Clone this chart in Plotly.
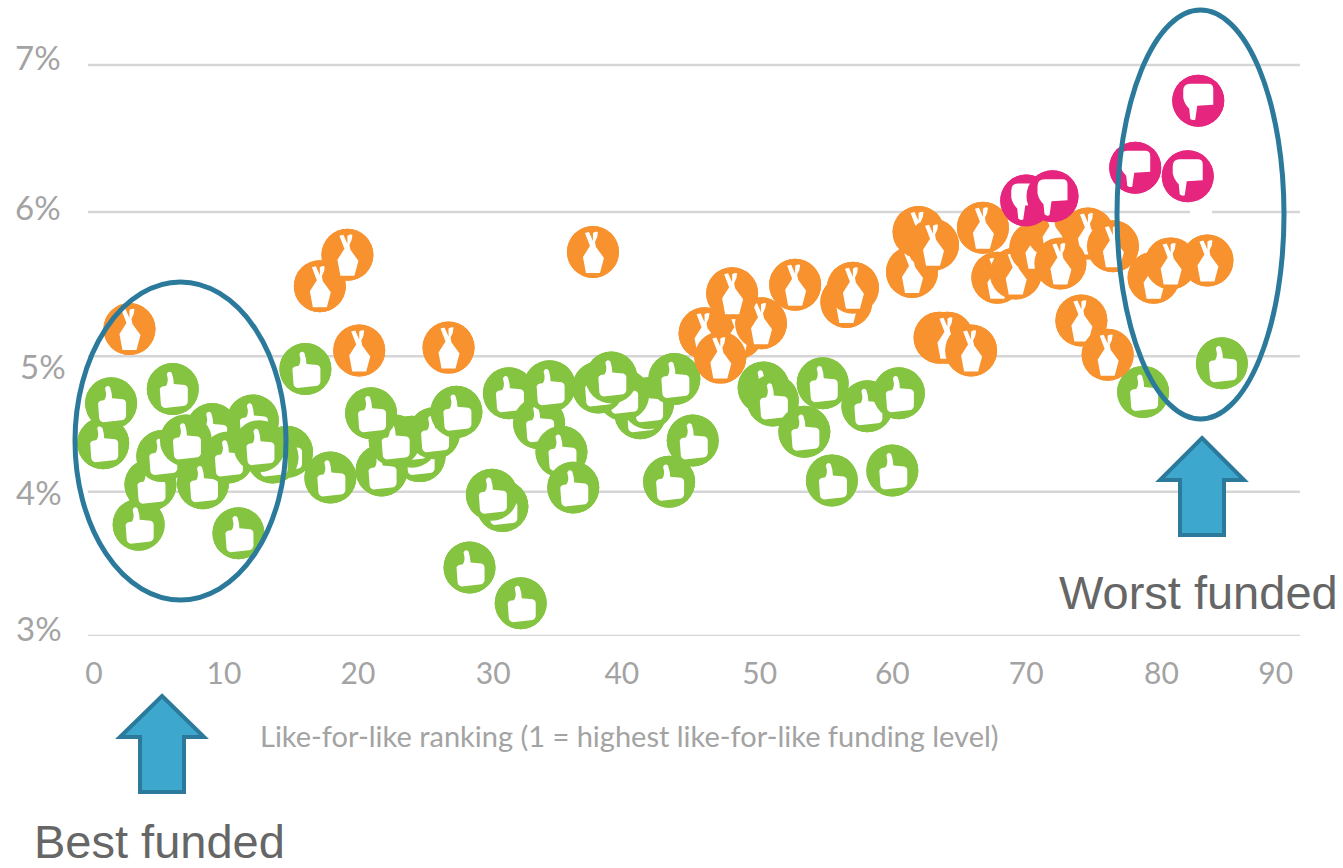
import plotly.graph_objects as go

# Funding level (%) against like-for-like ranking, one list pair per status.
green_rank = [0.7, 1.3, 6.0, 3.4, 4.3, 5.2, 8.3, 9.0, 7.0, 10.2, 12.1, 14.7, 13.6, 12.6, 11.0,
              16.1, 18.0, 24.8, 24.2, 21.9, 25.9, 22.9, 21.1, 27.6,
              31.1, 30.3, 28.6, 32.5, 31.6, 33.9, 34.7, 35.6, 36.5,
              41.6, 42.2, 40.3, 38.4, 39.4, 44.2, 45.6, 43.8,
              51.0, 51.7, 55.5, 54.1, 58.9, 61.3, 56.2, 60.8, 79.9, 85.9]
green_pct = [4.35, 4.63, 4.73, 3.78, 4.06, 4.26, 4.07, 4.45, 4.37, 4.25, 4.51, 4.29, 4.25, 4.33, 3.72,
             4.87, 4.11, 4.26, 4.36, 4.16, 4.42, 4.37, 4.56, 4.57,
             3.91, 3.99, 3.48, 3.23, 4.70, 4.49, 4.75, 4.29, 4.04,
             4.56, 4.63, 4.69, 4.74, 4.81, 4.80, 4.37, 4.08,
             4.74, 4.65, 4.77, 4.43, 4.61, 4.70, 4.09, 4.16, 4.71, 4.91]

orange_rank = [2.7, 17.2, 19.3, 20.2, 27.0, 38.0,
               46.5, 49.0, 50.8, 47.7, 48.6, 53.4, 57.3, 57.8,
               62.3, 62.8, 63.9, 67.7, 68.8, 70.2, 71.7, 73.0, 75.7, 77.6, 73.6,
               64.4, 65.0, 66.8, 75.2, 77.2, 80.7, 82.0, 84.8]
orange_pct = [5.15, 5.45, 5.67, 5.00, 5.02, 5.69,
              5.12, 5.12, 5.19, 4.95, 5.40, 5.46, 5.34, 5.44,
              5.55, 5.83, 5.74, 5.86, 5.51, 5.54, 5.72, 5.83, 5.82, 5.73, 5.61,
              5.09, 5.09, 5.00, 5.21, 4.97, 5.51, 5.61, 5.63]

pink_rank = [71.0, 73.0, 79.3, 83.3, 84.1]
pink_pct = [6.05, 6.08, 6.28, 6.22, 6.75]

grid_values = [3, 4.01, 4.96, 5.97, 7]
y_tick_labels = ["3%", "4%", "5%", "6%", "7%"]
x_tick_positions = [0, 9.9, 20.1, 30.4, 40.2, 50.7, 60.8, 71, 81.3, 90]
x_tick_labels = ["0", "10", "20", "30", "40", "50", "60", "70", "80", "90"]

GREEN, ORANGE, PINK = "#84c441", "#f7922e", "#e6257f"
TICK_GREY, TEXT_GREY, GRID = "#a3a3a3", "#666666", "#d6d6d8"
RING, ARROW = "#2b7a9b", "#3da7cd"

W, H = 1343, 868
L, R, T, B = 60, 43, 0, 232
RADIUS = 26

# Icon outlines in pixels around the marker centre, y pointing up.
THUMB_UP = ("M-13,0 Q-12,3 -7,3 Q-5,5 -5,10 L-6,15 Q-4,19 -1,16 Q1,10 1,5 L12,4 "
            "Q15,3 15,0 L15,-13 Q14,-17 10,-17 L-8,-19 Q-12,-18 -12,-14 Z")
FINGERS = ("M-7,-21 L-10,-5 L-3,6 L-8,19 L-4,20 L0,11 L0,19 Q3,21 5,20 Q5,15 2,10 "
           "L3,5 L11,-6 L7,-21 Z")
THUMB_DOWN = ("M-15,10 Q-15,17 -8,17 L10,17 Q15,17 15,12 L15,-4 L-1,-5 L-3,-19 "
              "Q-6,-20 -8,-18 L-9,-8 Q-14,-3 -15,3 Z")


def page_x(px):
    return (px - L) / (W - L - R)


def page_y(py):
    return 1 - (py - T) / (H - T - B)


def badge(x, y, colour, icon):
    common = dict(xref="x", yref="y", xsizemode="pixel", ysizemode="pixel",
                  xanchor=x, yanchor=y, layer="above", line_width=0)
    return [
        dict(type="circle", x0=-RADIUS, x1=RADIUS, y0=-RADIUS, y1=RADIUS,
             fillcolor=colour, **common),
        dict(type="path", path=icon, fillcolor="white", **common),
    ]


def up_arrow(tip_x, tip_y, half_head, half_shaft, head_y, bottom_y):
    pts = [(tip_x, tip_y), (tip_x + half_head, head_y), (tip_x + half_shaft, head_y),
           (tip_x + half_shaft, bottom_y), (tip_x - half_shaft, bottom_y),
           (tip_x - half_shaft, head_y), (tip_x - half_head, head_y)]
    path = "M" + " L".join(f"{page_x(a):.5f},{page_y(b):.5f}" for a, b in pts) + " Z"
    return dict(type="path", xref="paper", yref="paper", path=path,
                fillcolor=ARROW, line=dict(color=RING, width=4), layer="above")


def ring(x0, x1, y0, y1):
    return dict(type="circle", xref="paper", yref="paper",
                x0=page_x(x0), x1=page_x(x1), y0=page_y(y1), y1=page_y(y0),
                line=dict(color=RING, width=5), fillcolor="rgba(0,0,0,0)", layer="above")


def white_stroke(x0, y0, x1, y1, width):
    return dict(type="line", xref="paper", yref="paper",
                x0=page_x(x0), x1=page_x(x1), y0=page_y(y0), y1=page_y(y1),
                line=dict(color="white", width=width), layer="above")


def page_text(text, cx, cy, size, colour, family):
    return dict(text=text, xref="paper", yref="paper", x=page_x(cx), y=page_y(cy),
                xanchor="center", yanchor="middle", showarrow=False,
                font=dict(size=size, color=colour, family=family))


fig = go.Figure()
for name, xs, ys, colour in [("Green", green_rank, green_pct, GREEN),
                             ("Amber", orange_rank, orange_pct, ORANGE),
                             ("Red", pink_rank, pink_pct, PINK)]:
    fig.add_trace(go.Scatter(x=xs, y=ys, mode="markers", name=name, cliponaxis=False,
                             marker=dict(size=2 * RADIUS, color=colour, line_width=0)))

shapes = [dict(type="line", xref="x", yref="y", x0=-0.46, x1=91.85, y0=v, y1=v,
               line=dict(color=GRID, width=2.5), layer="below") for v in grid_values]
for x, y in zip(green_rank, green_pct):
    shapes += badge(x, y, GREEN, THUMB_UP)
for x, y in zip(orange_rank, orange_pct):
    shapes += badge(x, y, ORANGE, FINGERS)
shapes += [white_stroke(1190, 212, 1212, 212, 5), white_stroke(1192, 198, 1192, 214, 4)]
for x, y in zip(pink_rank, pink_pct):
    shapes += badge(x, y, PINK, THUMB_DOWN)
shapes += [ring(75, 286, 282, 600), ring(1117, 1284, 10, 419),
           up_arrow(162, 696, 42, 22, 737, 792), up_arrow(1202, 438, 42, 22, 480, 535)]

annotations = [page_text(t, cx, cy, 33, TICK_GREY, "Lato")
               for t, cx, cy in zip(y_tick_labels, [39, 39, 43, 38, 38], [628, 492, 366, 207, 57])]
annotations += [
    page_text("Like-for-like ranking (1 = highest like-for-like funding level)",
              629, 735, 29, TICK_GREY, "Lato"),
    page_text("Worst funded", 1198, 592, 47, TEXT_GREY, "Liberation Sans"),
    page_text("Best funded", 159, 841, 47, TEXT_GREY, "Liberation Sans"),
]

fig.update_layout(
    width=W, height=H, autosize=False, showlegend=False,
    paper_bgcolor="white", plot_bgcolor="white",
    margin=dict(l=L, r=R, t=T, b=B, pad=0),
    xaxis=dict(range=[-2.59, 91.85], showgrid=False, zeroline=False, showline=False, ticks="",
               tickmode="array", tickvals=x_tick_positions, ticktext=x_tick_labels,
               tickfont=dict(size=30, color=TICK_GREY, family="Lato"), ticklabelstandoff=17,
               automargin=False, fixedrange=True),
    yaxis=dict(range=[3, 7.455], showgrid=False, zeroline=False, showline=False,
               showticklabels=False, ticks="", automargin=False, fixedrange=True),
    shapes=shapes, annotations=annotations,
)

fig.write_html("out.html", config=dict(displayModeBar=False))
